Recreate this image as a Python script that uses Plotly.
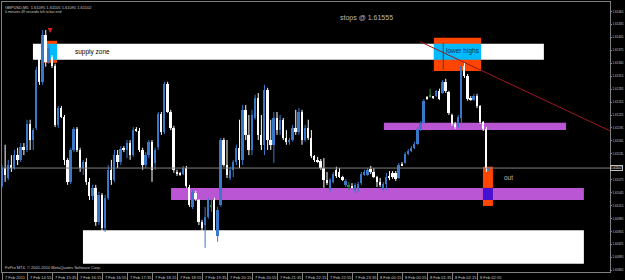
import plotly.graph_objects as go

# ---------------- data (GBPUSD M5, values in points = price * 1e5) ----------------
open_pts = [161060,161102,161079,161109,161102,161132,161121,161151,161144,161204,
            161167,161195,161364,161302,161411,161348,161360,161339,161202,161241,
            161221,161121,161070,161144,161193,161144,161102,161116,161070,161037,
            161056,160977,161040,160963,161033,161098,161074,161132,161116,161146,
            161144,161160,161132,161190,161188,161144,161109,161132,161163,161114,
            161150,161228,161186,161297,161232,161195,161093,161088,161088,161102,
            161058,161012,161044,161028,160977,160970,160989,161014,161028,160944,
            161016,161167,161109,161079,161098,161116,161149,161121,161237,161179,
            161144,161218,161265,161179,161156,161283,161167,161156,161218,161190,
            161214,161172,161163,161167,161195,161186,161232,161167,161195,161172,
            161130,161121,161118,161102,161074,161051,161070,161098,161093,161081,
            161063,161060,161060,161049,161056,161067,161086,161086,161100,161093,
            161081,161070,161054,161065,161084,161091,161091,161079,161112,161114,
            161135,161142,161149,161158,161193,161207,161267,161267,161267,161269,
            161281,161276,161302,161279,161225,161204,161200,161218,161339,161316,
            161265,161260,161269,161246,161209,161193,161095]
high_pts = [161109,161156,161121,161132,161144,161149,161160,161160,161214,161214,
            161195,161337,161371,161422,161422,161388,161364,161344,161246,161246,
            161225,161125,161149,161197,161197,161149,161121,161125,161079,161063,
            161063,161047,161044,161040,161109,161121,161144,161144,161153,161153,
            161167,161167,161197,161197,161195,161149,161139,161167,161167,161149,
            161232,161232,161302,161302,161237,161200,161098,161093,161107,161107,
            161063,161051,161049,161030,160982,161012,161033,161028,161033,161012,
            161172,161172,161167,161105,161121,161156,161214,161248,161248,161225,
            161237,161272,161276,161225,161295,161288,161214,161232,161232,161225,
            161218,161190,161172,161202,161237,161241,161237,161202,161214,161190,
            161132,161128,161123,161125,161093,161079,161093,161105,161102,161084,
            161077,161070,161067,161067,161070,161093,161098,161102,161107,161102,
            161084,161079,161070,161091,161095,161095,161095,161114,161116,161139,
            161146,161153,161163,161197,161211,161262,161269,161286,161269,161283,
            161286,161306,161309,161281,161228,161209,161225,161346,161346,161320,
            161269,161274,161274,161248,161211,161197,161105]
low_pts = [161056,161070,161074,161093,161098,161109,161116,161132,161139,161144,
           161144,161190,161295,161295,161337,161344,161334,161197,161195,161218,
           161109,161063,161065,161139,161139,161093,161086,161063,161028,161028,
           160968,160970,160882,160954,161028,161063,161070,161102,161109,161139,
           161125,161121,161128,161186,161139,161098,161102,161125,161070,161098,
           161144,161179,161181,161230,161190,161091,161084,161084,161086,161056,
           161012,161007,161026,160970,160940,160917,160984,161000,160935,160931,
           161012,161105,161079,161074,161081,161109,161102,161109,161167,161132,
           161132,161214,161167,161144,161132,161144,161144,161114,161179,161179,
           161167,161156,161156,161163,161179,161179,161156,161163,161167,161125,
           161116,161114,161098,161056,161063,161047,161067,161079,161079,161072,
           161058,161051,161056,161044,161047,161063,161084,161084,161088,161079,
           161058,161058,161049,161051,161074,161077,161072,161077,161107,161112,
           161132,161139,161146,161156,161188,161204,161260,161265,161262,161267,
           161260,161274,161276,161225,161200,161193,161195,161204,161311,161258,
           161258,161258,161241,161204,161188,161093,161091]
close_pts = [161102,161086,161109,161102,161132,161121,161151,161144,161204,161167,
             161190,161330,161302,161411,161348,161381,161339,161202,161241,161221,
             161121,161070,161144,161193,161144,161102,161116,161070,161037,161056,
             160977,161040,160963,161033,161098,161074,161132,161116,161146,161144,
             161160,161132,161190,161188,161144,161109,161132,161163,161098,161144,
             161228,161186,161297,161232,161195,161098,161088,161086,161102,161060,
             161016,161047,161030,160977,160963,160989,161028,161014,160944,161005,
             161167,161109,161086,161098,161116,161149,161121,161237,161179,161144,
             161225,161265,161179,161156,161283,161167,161156,161218,161190,161214,
             161172,161163,161167,161195,161186,161232,161167,161195,161172,161130,
             161121,161118,161102,161074,161067,161074,161088,161084,161081,161074,
             161072,161060,161058,161063,161065,161088,161093,161098,161093,161081,
             161070,161063,161065,161081,161079,161081,161077,161109,161109,161135,
             161142,161149,161158,161193,161207,161258,161262,161267,161265,161281,
             161262,161302,161281,161230,161204,161197,161221,161339,161316,161262,
             161260,161269,161246,161209,161193,161102,161102]
doji_bars = [67, 111, 137]

# time axis labels (every 8 bars of M5 = 40 min)
time_labels = ["7 Feb 2011", "7 Feb 14:55", "7 Feb 15:35", "7 Feb 16:15", "7 Feb 16:55",
               "7 Feb 17:35", "7 Feb 18:15", "7 Feb 18:55", "7 Feb 19:35", "7 Feb 20:15",
               "7 Feb 20:55", "7 Feb 21:35", "7 Feb 22:15", "7 Feb 22:55", "7 Feb 23:35",
               "8 Feb 00:15", "8 Feb 00:55", "8 Feb 01:35", "8 Feb 02:15", "8 Feb 02:55"]
time_label_bars = [0, 8, 16, 24, 32, 40, 48, 56, 64, 72, 80, 88, 96, 104, 112, 120, 128, 136, 144, 152]

# price axis labels
price_labels = ["1.61465", "1.61435", "1.61405", "1.61375", "1.61345", "1.61315", "1.61285",
                "1.61255", "1.61225", "1.61195", "1.61165", "1.61135", "1.61075", "1.61045",
                "1.61015", "1.60985", "1.60955", "1.60925", "1.60895", "1.60865"]

# drawn objects (bar index range, price range)
supply_x = [9.9, 173.4];        supply_y = [1.61353, 1.61390]
entry_box_x = [12.5, 17.6];     entry_box_y = [1.61346, 1.61397]
lower_highs_x = [138.2, 153.3]; lower_highs_y = [1.61327, 1.61404]
upper_band_x = [122.2, 180.5];  upper_band_y = [1.61190, 1.61207]
lower_band_x = [54.1, 186.2];   lower_band_y = [1.61028, 1.61056]
bottom_box_x = [25.9, 186.2];   bottom_box_y = [1.60880, 1.60958]
out_box_x = [153.9, 157.1];     out_box_y = [1.61014, 1.61105]
trend_x = [133.8, 194.6];       trend_y = [1.61395, 1.61188]
marker_line_x = [141.2, 141.2]; marker_line_y = [1.61330, 1.61392]
sell_arrow_x = [15.4];          sell_arrow_y = [1.61415]

x_range = [0.0, 194.56]
y_range = [1.60861, 1.61487]

# ---------------- build ----------------
P = lambda v: v / 1e5
n = len(open_pts)
bars = list(range(n))

BLUE = "#3a78c8"
WHITE = "#ffffff"
GREEN = "#2e8b2e"
ORANGE = "#ff4500"
CYAN = "#00baff"
ORCHID = "#ba55d3"
VIOLET = "#4510d3"
GRAY = "#808080"
TXT = "#c8c8c8"
FONT = "Liberation Sans"

def col(i):
    if i in doji_bars:
        return GREEN
    return BLUE if close_pts[i] > open_pts[i] else WHITE

colors = [col(i) for i in bars]

fig = go.Figure()
# wicks, one trace per colour
for c in (BLUE, WHITE, GREEN):
    wx, wy = [], []
    for i in bars:
        if colors[i] == c:
            wx += [i, i, None]
            wy += [P(low_pts[i]), P(high_pts[i]), None]
    fig.add_trace(go.Scatter(x=wx, y=wy, mode="lines", line=dict(color=c, width=1),
                             showlegend=False, hoverinfo="skip"))
# bodies
body_base = [P(min(open_pts[i], close_pts[i])) for i in bars]
body_h = [max(P(abs(close_pts[i] - open_pts[i])), 0.000025) for i in bars]
fig.add_trace(go.Bar(x=bars, y=body_h, base=body_base, width=0.62,
                     marker=dict(color=colors, line=dict(width=0)),
                     showlegend=False, hoverinfo="skip"))
fig.add_trace(go.Scatter(x=sell_arrow_x, y=sell_arrow_y, mode="markers",
                         marker=dict(symbol="arrow-down", size=5, color="#d02020"),
                         showlegend=False, hoverinfo="skip"))

def rect(xr, yr, color):
    fig.add_shape(type="rect", xref="x", yref="y", x0=xr[0], x1=xr[1], y0=yr[0], y1=yr[1],
                  fillcolor=color, line=dict(width=0), layer="below")

rect(supply_x, supply_y, "#ffffff")
rect(bottom_box_x, bottom_box_y, "#ffffff")
rect(upper_band_x, upper_band_y, ORCHID)
rect(lower_band_x, lower_band_y, ORCHID)
for bx, by in [(entry_box_x, entry_box_y), (lower_highs_x, lower_highs_y)]:
    rect(bx, by, ORANGE)
    rect(bx, [max(by[0], supply_y[0]), min(by[1], supply_y[1])], CYAN)
rect(out_box_x, out_box_y, ORANGE)
rect(out_box_x, [max(out_box_y[0], lower_band_y[0]), min(out_box_y[1], lower_band_y[1])], VIOLET)

fig.add_shape(type="line", xref="x", yref="y", x0=trend_x[0], x1=trend_x[1],
              y0=trend_y[0], y1=trend_y[1], line=dict(color="#a01818", width=1))
fig.add_shape(type="line", xref="x", yref="y", x0=marker_line_x[0], x1=marker_line_x[1],
              y0=marker_line_y[0], y1=marker_line_y[1], line=dict(color="#404040", width=1))

bid = P(close_pts[-1])
fig.add_shape(type="line", xref="paper", yref="y", x0=0, x1=1, y0=bid, y1=bid,
              line=dict(color=GRAY, width=1))

ann = []
ann.append(dict(x=0.002, y=1, xref="paper", yref="paper", xanchor="left", yanchor="top",
                yshift=-1, showarrow=False,
                text="GBPUSD,M5  %.5f %.5f %.5f %.5f" % (P(open_pts[-1]), P(high_pts[-1]), P(low_pts[-1]), P(close_pts[-1])),
                font=dict(size=4, color=TXT, family=FONT)))
ann.append(dict(x=0.002, y=1, xref="paper", yref="paper", xanchor="left", yanchor="top",
                yshift=-6, showarrow=False, text="0 minutes 49 seconds left to bar end",
                font=dict(size=3.5, color=TXT, family=FONT)))
ann.append(dict(x=0.6, y=0.941, xref="paper", yref="paper", xanchor="center", yanchor="middle",
                showarrow=False, text="stops @ 1.61555", font=dict(size=7, color="#b8b8b8", family=FONT)))
ann.append(dict(x=22.7, y=1.61371, xref="x", yref="y", xanchor="left", yanchor="middle",
                showarrow=False, text="supply zone", font=dict(size=6.5, color="#000000", family=FONT)))
ann.append(dict(x=147.6, y=1.61374, xref="x", yref="y", xanchor="center", yanchor="middle",
                showarrow=False, text="lower highs", font=dict(size=6.5, color="#10304a", family=FONT)))
ann.append(dict(x=160.0, y=1.61079, xref="x", yref="y", xanchor="left", yanchor="middle",
                showarrow=False, text="out", font=dict(size=6.5, color="#b8b8b8", family=FONT)))
ann.append(dict(x=0.002, y=0.015, xref="paper", yref="paper", xanchor="left", yanchor="middle",
                showarrow=False, text="FxPro MT4, © 2001-2010 MetaQuotes Software Corp.",
                font=dict(size=4, color=TXT, family=FONT)))
for b, t in zip(time_label_bars, time_labels):
    ann.append(dict(x=b, y=0, xref="x", yref="paper", xanchor="left", yanchor="top",
                    xshift=1, yshift=-1, showarrow=False, text=t,
                    font=dict(size=4, color=TXT, family=FONT)))
ann.append(dict(x=1, y=bid, xref="paper", yref="y", xanchor="left", yanchor="middle",
                xshift=0, showarrow=False, text="%.5f" % bid, bgcolor="#000000",
                bordercolor="#c0c0c0", borderwidth=1, borderpad=0,
                font=dict(size=3.0, color="#ffffff", family=FONT)))

fig.update_layout(
    width=625, height=280,
    margin=dict(l=2, r=15, t=2, b=8, autoexpand=False),
    paper_bgcolor="#000000", plot_bgcolor="#000000",
    annotations=ann, showlegend=False, bargap=0,
    xaxis=dict(range=x_range, showgrid=False, zeroline=False, automargin=False,
               tickmode="array", tickvals=time_label_bars, ticks="outside", ticklen=7,
               tickcolor=GRAY, showticklabels=False, showline=True, linecolor=GRAY,
               linewidth=1, mirror=True),
    yaxis=dict(range=y_range, side="right", showgrid=False, zeroline=False, automargin=False,
               tickmode="array", tickvals=[float(s) for s in price_labels], ticktext=price_labels,
               ticks="outside", ticklen=1, tickcolor=GRAY,
               tickfont=dict(size=3.0, color=TXT, family=FONT),
               showline=True, linecolor=GRAY, linewidth=1, mirror=True),
)

fig.write_html("out.html")
